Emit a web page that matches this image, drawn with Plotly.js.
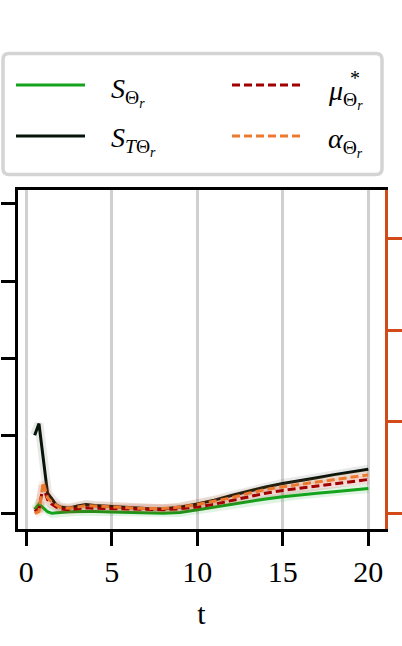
<!DOCTYPE html>
<html>
<head>
<meta charset="utf-8">
<script src="https://cdn.plot.ly/plotly-3.0.1.min.js"></script>
<style>html,body{margin:0;padding:0;background:#fff;}#chart{width:402px;height:646px;}</style>
</head>
<body>
<div id="chart"></div>
<script>
// time grid
const t = [0.5, 0.75, 1.0, 1.25, 1.5, 1.75, 2, 2.5, 3, 3.5, 4, 5, 6, 7, 8, 9, 10, 11, 12, 13, 14, 15, 16, 17, 18, 19, 20];
// left axis series
const S_theta  = [0.05, 0.12, 0.07, 0.02, 0.0, 0.005, 0.013, 0.02, 0.023, 0.026, 0.023, 0.017, 0.01, 0.004, 0.0, 0.01, 0.045, 0.08, 0.12, 0.15, 0.185, 0.215, 0.24, 0.26, 0.28, 0.30, 0.32];
const ST_theta = [1.01, 1.16, 0.71, 0.26, 0.19, 0.11, 0.08, 0.065, 0.095, 0.115, 0.10, 0.085, 0.075, 0.062, 0.055, 0.08, 0.12, 0.17, 0.23, 0.29, 0.34, 0.385, 0.42, 0.46, 0.50, 0.535, 0.57];
// right axis series
const mu_star  = [0.02, 0.05, 0.30, 0.15, 0.10, 0.07, 0.05, 0.04, 0.05, 0.06, 0.055, 0.05, 0.045, 0.04, 0.04, 0.05, 0.07, 0.10, 0.14, 0.18, 0.22, 0.25, 0.275, 0.30, 0.325, 0.35, 0.37];
const alpha    = [0.0, 0.02, 0.34, 0.17, 0.12, 0.09, 0.063, 0.055, 0.074, 0.085, 0.08, 0.069, 0.055, 0.052, 0.052, 0.069, 0.096, 0.13, 0.17, 0.22, 0.26, 0.29, 0.315, 0.34, 0.37, 0.395, 0.42];
const xTicks = [0, 5, 10, 15, 20];
const leftTicks = [0, 1, 2, 3, 4];
const rightTicks = [0, 1, 2, 3];

const GREEN = '#14a31c', BLACK = '#08140a', DRED = '#a00000', ORANGE = '#ec7a2e', AXOR = '#d2491a';
const FONT = 'Liberation Serif';

function halo(y, color, axis) {
  return {x: t, y: y, yaxis: axis, mode: 'lines', line: {color: color, width: 9, shape: 'linear'}, opacity: 0.13, hoverinfo: 'skip', showlegend: false};
}
const traces = [
  halo(ST_theta, '#555555', 'y'),
  halo(S_theta, GREEN, 'y'),
  halo(mu_star, DRED, 'y2'),
  halo(alpha, ORANGE, 'y2'),
  {x: t, y: S_theta, yaxis: 'y', mode: 'lines', name: 'S', line: {color: GREEN, width: 3}},
  {x: t, y: ST_theta, yaxis: 'y', mode: 'lines', name: 'ST', line: {color: BLACK, width: 3}},
  {x: t, y: mu_star, yaxis: 'y2', mode: 'lines', name: 'mu', line: {color: DRED, width: 3, dash: '8px,4px'}},
  {x: t, y: alpha, yaxis: 'y2', mode: 'lines', name: 'alpha', line: {color: ORANGE, width: 3, dash: '8px,4px'}}
];

// pixel -> paper helpers (plot area: x 18..385, y 190..529)
const px = p => (p - 18) / 367;
const py = p => (529 - p) / 339;

const bx0 = px(3), bx1 = px(382), by0 = py(174.5), by1 = py(53.5);
const rx = 6 / 367, ry = 6 / 339;
const boxPath = `M${bx0 + rx},${by1} L${bx1 - rx},${by1} Q${bx1},${by1} ${bx1},${by1 - ry} L${bx1},${by0 + ry} Q${bx1},${by0} ${bx1 - rx},${by0} L${bx0 + rx},${by0} Q${bx0},${by0} ${bx0},${by0 + ry} L${bx0},${by1 - ry} Q${bx0},${by1} ${bx0 + rx},${by1} Z`;

const shapes = [
  {type: 'path', xref: 'paper', yref: 'paper', path: boxPath, line: {color: '#d4d4d4', width: 3.5}, fillcolor: 'rgba(255,255,255,0.9)', layer: 'above'},
  {type: 'line', xref: 'paper', yref: 'paper', x0: px(16), x1: px(85), y0: py(85), y1: py(85), line: {color: GREEN, width: 3}},
  {type: 'line', xref: 'paper', yref: 'paper', x0: px(16), x1: px(85), y0: py(136), y1: py(136), line: {color: BLACK, width: 3}},
  {type: 'line', xref: 'paper', yref: 'paper', x0: px(232), x1: px(300), y0: py(85), y1: py(85), line: {color: DRED, width: 3, dash: '8px,4px'}},
  {type: 'line', xref: 'paper', yref: 'paper', x0: px(232), x1: px(300), y0: py(136), y1: py(136), line: {color: ORANGE, width: 3, dash: '8px,4px'}}
];
const lf = {family: FONT, size: 28, color: '#000'};
const annotations = [
  {xref: 'paper', yref: 'paper', x: px(109), y: py(92), xanchor: 'left', yanchor: 'middle', showarrow: false, font: lf, text: '<i>S</i><sub>Θ<sub><i>r</i></sub></sub>'},
  {xref: 'paper', yref: 'paper', x: px(109), y: py(141), xanchor: 'left', yanchor: 'middle', showarrow: false, font: lf, text: '<i>S</i><sub><i>T</i>Θ<sub><i>r</i></sub></sub>'},
  {xref: 'paper', yref: 'paper', x: px(326), y: py(94), xanchor: 'left', yanchor: 'middle', showarrow: false, font: lf, text: '<i>μ</i><sub>Θ<sub><i>r</i></sub></sub>'},
  {xref: 'paper', yref: 'paper', x: px(348), y: py(78), xanchor: 'left', yanchor: 'middle', showarrow: false, font: {family: FONT, size: 20, color: '#000'}, text: '*'},
  {xref: 'paper', yref: 'paper', x: px(326), y: py(142), xanchor: 'left', yanchor: 'middle', showarrow: false, font: lf, text: '<i>α</i><sub>Θ<sub><i>r</i></sub></sub>'}
];

const layout = {
  width: 402, height: 646,
  margin: {l: 18, r: 17, t: 190, b: 117},
  paper_bgcolor: '#fff', plot_bgcolor: '#fff',
  showlegend: false,
  font: {family: FONT, color: '#000'},
  xaxis: {
    range: [-0.475, 20.975], tickvals: xTicks, ticktext: xTicks.map(String),
    showgrid: true, gridcolor: '#d0d0d0', gridwidth: 3,
    zeroline: false, showline: true, linecolor: '#000', linewidth: 3, mirror: true,
    ticks: 'outside', ticklen: 14, tickwidth: 3, tickcolor: '#000',
    tickfont: {family: FONT, size: 30, color: '#000'},
    title: {text: 't', font: {family: FONT, size: 30, color: '#000'}, standoff: 16}
  },
  yaxis: {
    range: [-0.203, 4.18], tickvals: leftTicks, showticklabels: false,
    showgrid: false, zeroline: false, showline: true, linecolor: '#000', linewidth: 3, mirror: true,
    ticks: 'outside', ticklen: 14, tickwidth: 3, tickcolor: '#000'
  },
  yaxis2: {
    overlaying: 'y', side: 'right', range: [-0.171, 3.53], tickvals: rightTicks, showticklabels: false,
    showgrid: false, zeroline: false, showline: true, linecolor: AXOR, linewidth: 3,
    ticks: 'outside', ticklen: 14, tickwidth: 3, tickcolor: AXOR
  },
  shapes: shapes,
  annotations: annotations
};

Plotly.newPlot('chart', traces, layout, {displayModeBar: false, staticPlot: true});
</script>
</body>
</html>
